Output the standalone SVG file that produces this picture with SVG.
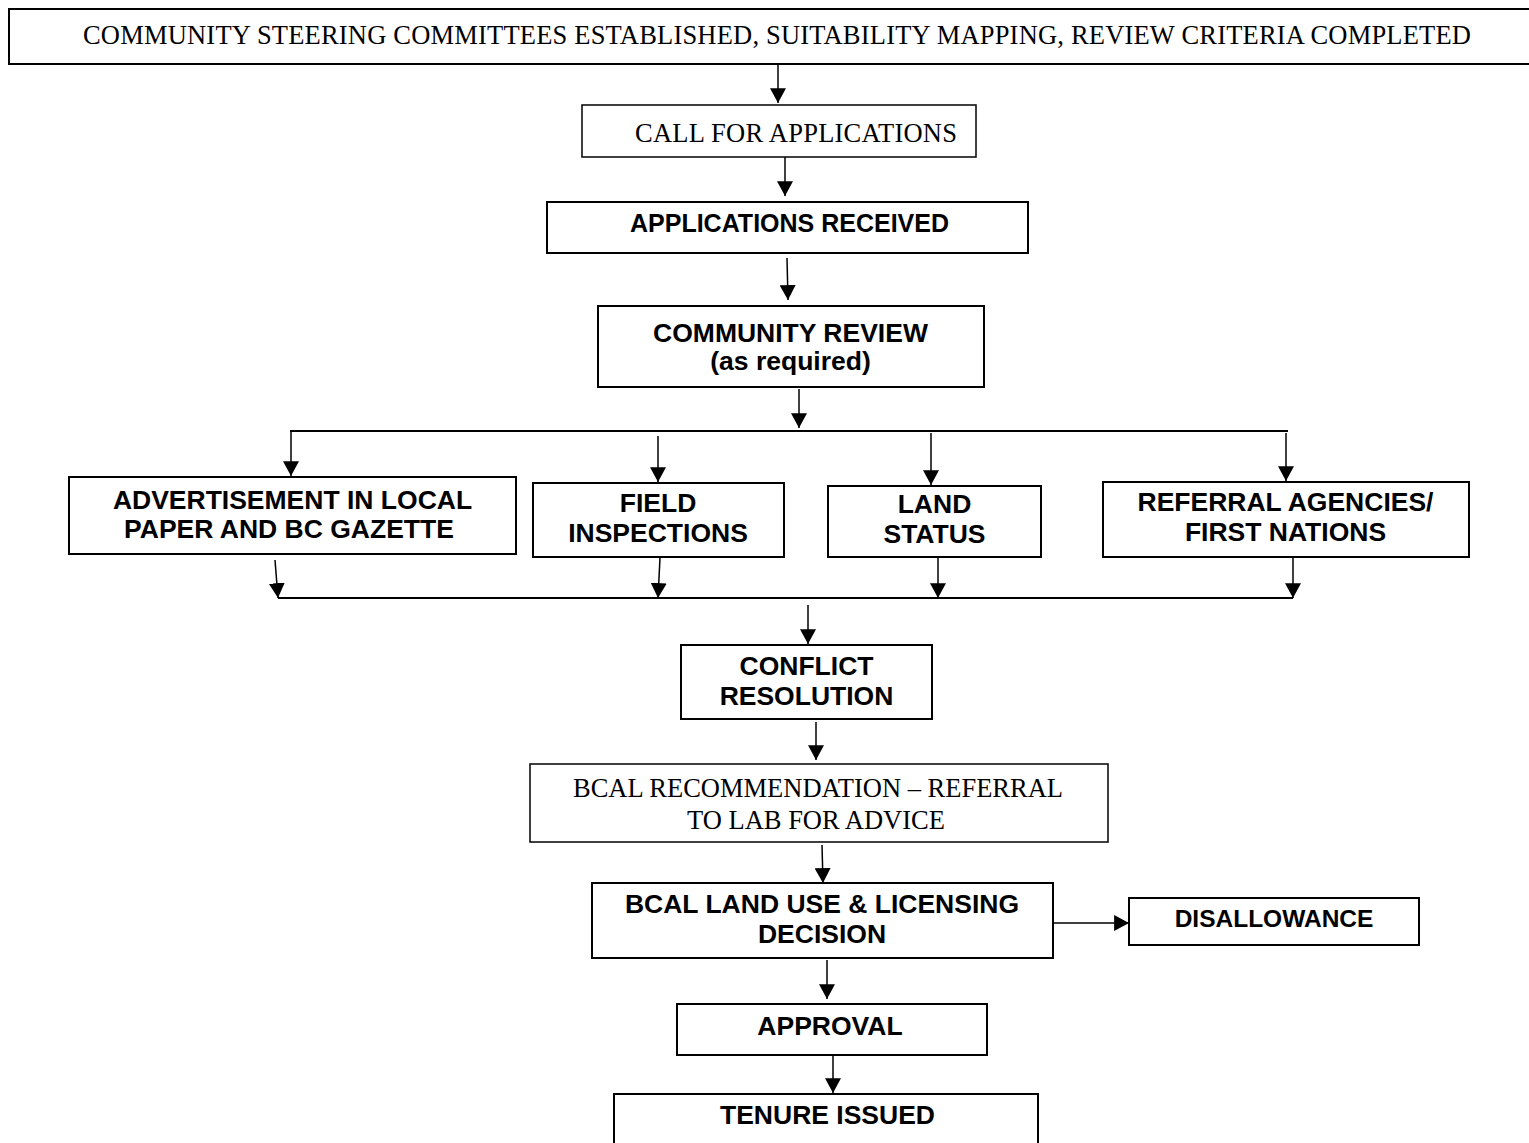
<svg xmlns="http://www.w3.org/2000/svg" width="1529" height="1143" viewBox="0 0 1529 1143">
<style>
.box{fill:#fff;stroke:#000;stroke-width:2}
.thin{stroke-width:1.5}
.serif{font-family:"Liberation Serif","Times New Roman",serif;font-size:26.5px;fill:#000}
.bold{font-family:"Liberation Sans",Arial,sans-serif;font-size:26.5px;font-weight:bold;fill:#000;text-anchor:middle}
.conn{stroke:#000;stroke-width:1.5;fill:none}
.bar{stroke:#000;stroke-width:2;fill:none}
</style>
<defs>
<marker id="ah" markerUnits="userSpaceOnUse" markerWidth="16" markerHeight="16" viewBox="0 0 14 14" refX="13" refY="7" orient="auto">
<path d="M0,0 L13,7 L0,14 Z" fill="#000"/>
</marker>
</defs>
<rect width="1529" height="1143" fill="#fff"/>
<g id="connectors">
<line class="conn" x1="778" y1="64" x2="778" y2="103" marker-end="url(#ah)"/>
<line class="conn" x1="785" y1="157" x2="785" y2="196" marker-end="url(#ah)"/>
<line class="conn" x1="787" y1="258" x2="788" y2="300" marker-end="url(#ah)"/>
<line class="conn" x1="799" y1="389" x2="799" y2="428" marker-end="url(#ah)"/>
<line class="bar" x1="290" y1="431" x2="1288" y2="431"/>
<line class="conn" x1="291" y1="431" x2="291" y2="476" marker-end="url(#ah)"/>
<line class="conn" x1="658" y1="436" x2="658" y2="482" marker-end="url(#ah)"/>
<line class="conn" x1="931" y1="433" x2="931" y2="485" marker-end="url(#ah)"/>
<line class="conn" x1="1286" y1="433" x2="1286" y2="481" marker-end="url(#ah)"/>
<line class="conn" x1="275" y1="560" x2="278" y2="598" marker-end="url(#ah)"/>
<line class="conn" x1="660" y1="558" x2="658" y2="598" marker-end="url(#ah)"/>
<line class="conn" x1="938" y1="558" x2="938" y2="598" marker-end="url(#ah)"/>
<line class="conn" x1="1293" y1="556" x2="1293" y2="598" marker-end="url(#ah)"/>
<line class="bar" x1="278" y1="598" x2="1293" y2="598"/>
<line class="conn" x1="808" y1="605" x2="808" y2="644" marker-end="url(#ah)"/>
<line class="conn" x1="816" y1="722" x2="816" y2="760" marker-end="url(#ah)"/>
<line class="conn" x1="822" y1="845" x2="823" y2="883" marker-end="url(#ah)"/>
<line class="conn" x1="1053" y1="923" x2="1129" y2="923" marker-end="url(#ah)"/>
<line class="conn" x1="827" y1="960" x2="827" y2="999" marker-end="url(#ah)"/>
<line class="conn" x1="833" y1="1056" x2="833" y2="1093" marker-end="url(#ah)"/>
</g>
<g id="n_steering">
<rect class="box" x="9" y="9" width="1540" height="55"/>
<text class="serif" x="83" y="44" font-size="27" textLength="1388">COMMUNITY STEERING COMMITTEES ESTABLISHED, SUITABILITY MAPPING, REVIEW CRITERIA COMPLETED</text>
</g>
<g id="n_call">
<rect class="box thin" x="582" y="105" width="394" height="52"/>
<text class="serif" x="635" y="142" textLength="322">CALL FOR APPLICATIONS</text>
</g>
<g id="n_received">
<rect class="box" x="547" y="202" width="481" height="51"/>
<text class="bold" x="789.5" y="232" style="font-size:25px">APPLICATIONS RECEIVED</text>
</g>
<g id="n_review">
<rect class="box" x="598" y="306" width="386" height="81"/>
<text class="bold" x="790.5" y="342">COMMUNITY REVIEW</text>
<text class="bold" x="790.5" y="370">(as required)</text>
</g>
<g id="n_advert">
<rect class="box" x="69" y="477" width="447" height="77"/>
<text class="bold" x="292.5" y="509">ADVERTISEMENT IN LOCAL</text>
<text class="bold" x="289" y="538">PAPER AND BC GAZETTE</text>
</g>
<g id="n_field">
<rect class="box" x="533" y="483" width="251" height="74"/>
<text class="bold" x="658" y="512">FIELD</text>
<text class="bold" x="658" y="542">INSPECTIONS</text>
</g>
<g id="n_land">
<rect class="box" x="828" y="486" width="213" height="71"/>
<text class="bold" x="934.5" y="513">LAND</text>
<text class="bold" x="934.5" y="543">STATUS</text>
</g>
<g id="n_referral">
<rect class="box" x="1103" y="482" width="366" height="75"/>
<text class="bold" x="1285.5" y="511">REFERRAL AGENCIES/</text>
<text class="bold" x="1285.5" y="541">FIRST NATIONS</text>
</g>
<g id="n_conflict">
<rect class="box" x="681" y="645" width="251" height="74"/>
<text class="bold" x="806.5" y="675">CONFLICT</text>
<text class="bold" x="806.5" y="705">RESOLUTION</text>
</g>
<g id="n_recommendation">
<rect class="box thin" x="530" y="764" width="578" height="78"/>
<text class="serif" x="818" y="797" text-anchor="middle">BCAL RECOMMENDATION – REFERRAL</text>
<text class="serif" x="816" y="829" text-anchor="middle">TO LAB FOR ADVICE</text>
</g>
<g id="n_decision">
<rect class="box" x="592" y="883" width="461" height="75"/>
<text class="bold" x="822" y="913">BCAL LAND USE &amp; LICENSING</text>
<text class="bold" x="822" y="943">DECISION</text>
</g>
<g id="n_disallowance">
<rect class="box" x="1129" y="898" width="290" height="47"/>
<text class="bold" x="1274" y="927" style="font-size:24.5px">DISALLOWANCE</text>
</g>
<g id="n_approval">
<rect class="box" x="677" y="1004" width="310" height="51"/>
<text class="bold" x="830" y="1035">APPROVAL</text>
</g>
<g id="n_tenure">
<rect class="box" x="614" y="1094" width="424" height="70"/>
<text class="bold" x="827.5" y="1124">TENURE ISSUED</text>
</g>
</svg>
